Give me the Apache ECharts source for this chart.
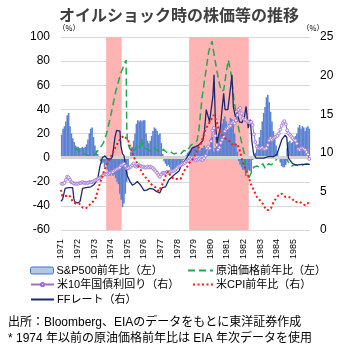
<!DOCTYPE html>
<html>
<head>
<meta charset="utf-8">
<script src="https://cdn.jsdelivr.net/npm/echarts@6/dist/echarts.min.js"></script>
<style>
  html, body { margin: 0; padding: 0; background: #fff; }
  #main { width: 358px; height: 351px; }
</style>
</head>
<body>
<div id="main"></div>
<script>
// monthly data, Jan 1971 - Dec 1985
var spx = [
  19, 24, 26, 30, 35, 37, 26, 20, 16, 13, 10, 9,
  9, 8, 8, 9, 8, 9, 11, 15, 20, 24, 25, 17,
  10, 6, 3, 1, -3, -5, -4, -8, -6, -10, -12, -15,
  -13, -15, -14, -17, -20, -22, -30, -35, -41, -38, -30, -20,
  -8, 0, 5, 9, 14, 20, 28, 31, 30, 31, 30, 31,
  31, 20, 14, 12, 14, 18, 22, 25, 24, 22, 19, 20,
  12, 3, -3, -5, -7, -6, -8, -10, -12, -11, -9, -10,
  -8, -9, -6, -4, -2, 1, 2, 4, 5, 6, 8, 9,
  9, 8, 10, 7, 6, 8, 8, 10, 7, 3, 6, 10,
  16, 17, 5, 8, 14, 17, 20, 26, 28, 32, 34, 30,
  25, 28, 33, 32, 28, 20, 11, 5, -3, -6, -8, -10,
  -10, -12, -11, -10, -11, -12, -2, 2, 4, 7, 11, 17,
  23, 30, 37, 42, 50, 52, 46, 38, 30, 22, 16, 10,
  5, 0, -4, -7, -8, -8, -6, 8, 13, 14, 12, 13,
  15, 18, 20, 25, 27, 24, 26, 25, 22, 25, 26, 24
];
var ust10 = [
  6.0, 6.0, 6.1, 6.5, 6.9, 6.8, 6.5, 6.2, 6.1, 6.0, 6.0, 6.0,
  6.0, 6.1, 6.1, 6.2, 6.1, 6.1, 6.1, 6.1, 6.2, 6.2, 6.2, 6.3,
  6.4, 6.5, 6.6, 6.7, 6.8, 6.9, 7.1, 7.3, 7.2, 7.2, 7.3, 7.4,
  7.5, 7.5, 7.7, 7.8, 7.9, 8.0, 8.1, 8.4, 8.5, 8.6, 8.3, 8.0,
  8.0, 8.1, 8.2, 8.4, 8.6, 8.3, 8.2, 8.3, 8.4, 8.3, 8.2, 8.2,
  8.1, 8.1, 8.2, 8.1, 8.2, 8.1, 8.0, 7.8, 7.6, 7.4, 7.1, 6.9,
  7.2, 7.4, 7.4, 7.4, 7.5, 7.4, 7.5, 7.6, 7.6, 7.7, 7.8, 8.0,
  8.2, 8.3, 8.4, 8.5, 8.6, 8.7, 8.9, 8.9, 9.0, 9.2, 9.3, 9.2,
  9.1, 9.0, 9.1, 9.2, 9.3, 9.1, 9.1, 9.3, 9.6, 10.6, 10.8, 10.6,
  11.5, 12.9, 13.2, 12.2, 11.0, 10.4, 10.7, 11.3, 11.7, 12.1, 12.8, 13.1,
  13.2, 13.4, 13.5, 13.9, 14.0, 13.8, 14.2, 14.9, 15.6, 15.8, 15.1, 14.5,
  14.3, 14.3, 14.1, 14.0, 13.9, 14.0, 13.6, 12.4, 11.4, 10.8, 10.6, 10.6,
  10.6, 10.7, 10.5, 10.5, 10.6, 11.0, 11.6, 11.9, 11.7, 11.9, 12.0, 12.1,
  12.2, 12.5, 13.0, 13.5, 13.9, 14.1, 13.7, 12.9, 12.5, 12.3, 12.1, 11.9,
  11.7, 11.6, 11.2, 10.5, 10.4, 10.6, 10.6, 10.5, 10.4, 10.1, 9.8, 9.2
];
// [year, value]
var oil = [
  [1971.8, 8], [1972.3, 4], [1972.8, 0.5], [1973.0, 2], [1973.3, 7], [1973.55, 12],
  [1973.75, 20], [1974.0, 35], [1974.3, 55], [1974.6, 70], [1974.92, 81], [1974.96, 26],
  [1975.0, 13], [1975.15, 7], [1975.3, 9], [1975.45, 6], [1975.6, 11], [1975.75, 8],
  [1975.85, 15.6], [1975.95, 8], [1976.2, 7], [1976.4, 5], [1976.6, 8], [1976.8, 6],
  [1976.95, 5], [1977.05, -0.5], [1977.15, 7], [1977.4, 4], [1977.6, 5], [1977.8, 3],
  [1978.0, 4], [1978.2, 3], [1978.4, 6], [1978.6, 5], [1978.8, 10], [1979.0, 12],
  [1979.2, 14], [1979.3, 22], [1979.5, 50], [1979.7, 69], [1979.9, 88], [1980.1, 96.5],
  [1980.25, 83], [1980.5, 64], [1980.65, 55], [1980.8, 56], [1980.95, 70], [1981.08, 81],
  [1981.25, 69], [1981.4, 50], [1981.6, 31], [1981.85, 14.5], [1982.05, 3], [1982.15, -17],
  [1982.35, -16], [1982.6, -8], [1982.8, -7], [1983.0, -8], [1983.15, -5], [1983.3, -9],
  [1983.5, -5], [1983.65, -6], [1983.85, -4], [1984.0, -1], [1984.2, 0.5], [1984.4, 1],
  [1984.55, 0], [1984.75, -5], [1984.9, -7], [1985.1, -6], [1985.4, -7], [1985.6, -6],
  [1985.8, -5], [1985.99, -5]
];
var cpi = [
  [1971.0, 5.2], [1971.08, 4.4], [1971.3, 4.4], [1971.5, 4.5], [1971.7, 3.7], [1971.9, 3.4],
  [1972.1, 3.4], [1972.3, 2.9], [1972.5, 2.8], [1972.7, 3.2], [1972.9, 3.6], [1973.1, 4.2],
  [1973.25, 5.4], [1973.4, 6.4], [1973.55, 7.4], [1973.7, 8.2], [1973.85, 8.9], [1974.0, 9.5],
  [1974.2, 10.4], [1974.4, 11.2], [1974.6, 11.9], [1974.8, 12.2], [1974.92, 12.3], [1975.05, 11.6],
  [1975.2, 10.6], [1975.35, 9.6], [1975.55, 8.8], [1975.7, 8.1], [1975.85, 7.6], [1976.0, 7.0],
  [1976.2, 6.6], [1976.45, 5.9], [1976.7, 5.5], [1976.9, 5.0], [1977.1, 5.9], [1977.3, 7.0],
  [1977.45, 7.6], [1977.6, 7.0], [1977.8, 6.6], [1978.0, 6.6], [1978.2, 6.6], [1978.4, 7.6],
  [1978.6, 8.2], [1978.8, 8.9], [1979.0, 9.3], [1979.2, 10.4], [1979.4, 11.0], [1979.55, 12.0],
  [1979.7, 13.0], [1979.9, 13.8], [1980.05, 14.3], [1980.2, 14.9], [1980.35, 14.2], [1980.5, 13.0],
  [1980.65, 12.6], [1980.8, 12.0], [1981.0, 11.7], [1981.2, 11.4], [1981.4, 10.9], [1981.6, 11.2],
  [1981.75, 10.4], [1981.9, 9.2], [1982.0, 8.5], [1982.15, 7.8], [1982.3, 6.9], [1982.45, 5.9],
  [1982.6, 5.2], [1982.8, 4.3], [1983.0, 3.8], [1983.2, 3.3], [1983.35, 2.6], [1983.5, 2.6],
  [1983.65, 2.8], [1983.8, 3.6], [1983.95, 4.1], [1984.1, 4.5], [1984.3, 4.7], [1984.5, 4.3],
  [1984.7, 4.3], [1984.9, 4.1], [1985.1, 3.6], [1985.3, 3.7], [1985.5, 3.5], [1985.7, 3.2],
  [1985.85, 3.4], [1985.95, 3.7]
];
var ff = [
  [1971.0, 3.7], [1971.1, 4.0], [1971.25, 5.4], [1971.45, 5.5], [1971.7, 5.5], [1971.78, 4.0],
  [1971.85, 3.6], [1972.0, 3.5], [1972.15, 3.7], [1972.3, 5.4], [1972.5, 5.5], [1972.8, 5.6],
  [1973.0, 5.9], [1973.2, 6.5], [1973.35, 8.3], [1973.5, 9.4], [1973.65, 9.6], [1973.8, 9.2],
  [1974.0, 9.2], [1974.1, 9.5], [1974.25, 12.0], [1974.35, 12.9], [1974.55, 12.8], [1974.6, 11.0],
  [1974.7, 9.9], [1974.8, 9.6], [1974.9, 8.0], [1975.0, 7.0], [1975.15, 6.3], [1975.3, 5.8],
  [1975.45, 6.0], [1975.6, 6.3], [1975.8, 5.8], [1976.0, 5.1], [1976.2, 5.2], [1976.35, 5.4],
  [1976.55, 5.3], [1976.75, 5.0], [1976.95, 4.8], [1977.1, 5.5], [1977.3, 5.6], [1977.5, 6.5],
  [1977.7, 6.9], [1977.9, 7.3], [1978.1, 7.6], [1978.3, 8.6], [1978.5, 9.1], [1978.7, 9.8],
  [1978.9, 10.6], [1979.0, 10.8], [1979.3, 11.0], [1979.55, 11.6], [1979.65, 13.0], [1979.75, 15.6],
  [1979.85, 15.4], [1979.95, 14.0], [1980.05, 14.2], [1980.15, 17.3], [1980.22, 20.1], [1980.3, 14.0],
  [1980.4, 11.3], [1980.5, 11.5], [1980.6, 13.3], [1980.7, 15.6], [1980.8, 17.7], [1980.88, 15.6],
  [1981.05, 15.6], [1981.15, 17.3], [1981.3, 20.1], [1981.38, 16.0], [1981.5, 14.7], [1981.6, 15.2],
  [1981.75, 14.0], [1981.9, 13.9], [1982.05, 14.7], [1982.15, 16.0], [1982.28, 13.2], [1982.4, 14.3],
  [1982.5, 11.5], [1982.6, 9.9], [1982.75, 9.3], [1983.2, 9.3], [1983.5, 9.5], [1983.8, 9.5],
  [1984.0, 9.8], [1984.1, 10.4], [1984.3, 11.7], [1984.5, 12.3], [1984.6, 12.0], [1984.7, 9.3],
  [1984.95, 8.6], [1985.2, 8.4], [1985.5, 8.5], [1985.99, 8.5]
];
var shocks = [[1973.72, 1974.65], [1978.72, 1982.31]];

var names = ['S&P500前年比（左）', '原油価格前年比（左）', '米10年国債利回り（右）', '米CPI前年比（右）', 'FFレート（右）'];

function monthly(arr) {
  return arr.map(function (v, i) { return [1971 + i / 12 + 1 / 24, v]; });
}

var font = "'Liberation Sans', 'Noto Sans CJK JP', sans-serif";
var chart = echarts.init(document.getElementById('main'));

var noSymbol = { color: 'transparent', borderColor: 'transparent', opacity: 0 };

function leg(name, left, top, w, extra, h) {
  var item = { name: name };
  if (extra) item.itemStyle = extra;
  return {
    data: [item], left: left, top: top, orient: 'horizontal',
    itemWidth: w, itemHeight: h || 7, itemGap: 0, padding: 0,
    textStyle: { fontSize: 11, color: '#000', fontFamily: font, padding: [0, 0, 0, -2] }
  };
}

chart.setOption({
  animation: false,
  title: {
    text: 'オイルショック時の株価等の推移', left: 'center', top: 2,
    textStyle: { fontSize: 16, fontWeight: 'bold', color: '#404040', fontFamily: "'Noto Sans CJK JP', sans-serif" }
  },
  grid: { left: 61, right: 48, top: 37, bottom: 121 },
  legend: [
    leg(names[0], 30, 265, 23, { color: '#b4c7e7', borderColor: '#4472c4', borderWidth: 1 }),
    leg(names[1], 187, 265, 25, noSymbol),
    leg(names[2], 30, 279, 23, null, 4),
    leg(names[3], 192, 279, 20, noSymbol),
    leg(names[4], 30, 294, 23, noSymbol)
  ],
  xAxis: {
    type: 'value', min: 1971, max: 1986, interval: 1,
    axisLine: { show: false }, axisTick: { show: false }, splitLine: { show: false },
    axisLabel: {
      rotate: 90, fontSize: 9, color: '#000', fontFamily: font, margin: 9, showMaxLabel: false,
      formatter: function (v) { return String(v); }
    }
  },
  yAxis: [
    {
      type: 'value', min: -60, max: 100, interval: 20,
      axisLine: { show: false }, axisTick: { show: false },
      splitLine: { lineStyle: { color: '#d9d9d9', width: 1 } },
      axisLabel: { fontSize: 12, color: '#000', fontFamily: font, margin: 11 }
    },
    {
      type: 'value', min: 0, max: 25, interval: 5,
      axisLine: { show: false }, axisTick: { show: false }, splitLine: { show: false },
      axisLabel: { fontSize: 12, color: '#000', fontFamily: font, margin: 10 }
    }
  ],
  graphic: [
    { type: 'text', left: 58, top: 24, style: { text: '（%）', fill: '#000', font: "7.5px 'Noto Sans CJK JP'" } },
    { type: 'text', left: 302, top: 24, style: { text: '（%）', fill: '#000', font: "7.5px 'Noto Sans CJK JP'" } },
    { type: 'text', left: 8, top: 317, style: { text: '出所：Bloomberg、EIAのデータをもとに東洋証券作成', fill: '#000', font: "12px 'Liberation Sans', 'Noto Sans CJK JP', sans-serif" } },
    { type: 'text', left: 8, top: 333, style: { text: '* 1974 年以前の原油価格前年比は EIA 年次データを使用', fill: '#000', font: "12px 'Liberation Sans', 'Noto Sans CJK JP', sans-serif" } }
  ],
  series: [
    {
      name: 'shade', type: 'line', data: [], z: 1, silent: true,
      markArea: {
        silent: true,
        itemStyle: { color: '#ffb3b3' },
        data: shocks.map(function (s) { return [{ xAxis: s[0] }, { xAxis: s[1] }]; })
      }
    },
    {
      name: names[0], type: 'bar', data: monthly(spx), barWidth: 1.6, z: 3,
      itemStyle: { color: '#5b82d2' },
      markLine: {
        silent: true, symbol: 'none', label: { show: false },
        lineStyle: { color: '#d4d4d4', width: 3, type: 'solid' },
        data: [{ yAxis: 0 }]
      }
    },
    {
      name: names[1], type: 'line', data: oil, z: 4, symbol: 'none',
      lineStyle: { color: '#1faa4f', width: 1.5, type: [7, 4] },
      itemStyle: { color: '#1faa4f' }
    },
    {
      name: names[2], type: 'line', yAxisIndex: 1, data: monthly(ust10), z: 5,
      symbol: 'circle', symbolSize: 3, showSymbol: true,
      lineStyle: { color: '#9b6fd0', width: 1 },
      itemStyle: { color: '#f4eefb', borderColor: '#9b6fd0', borderWidth: 0.8 }
    },
    {
      name: names[3], type: 'line', yAxisIndex: 1, data: cpi, z: 6, symbol: 'none',
      lineStyle: { color: '#ff1a1a', width: 2, type: [2, 2.5] },
      itemStyle: { color: '#ff1a1a' }
    },
    {
      name: names[4], type: 'line', yAxisIndex: 1, data: ff, z: 5, symbol: 'none',
      lineStyle: { color: '#1f2a6b', width: 1.3 },
      itemStyle: { color: '#1f2a6b' }
    }
  ]
});
</script>
</body>
</html>
